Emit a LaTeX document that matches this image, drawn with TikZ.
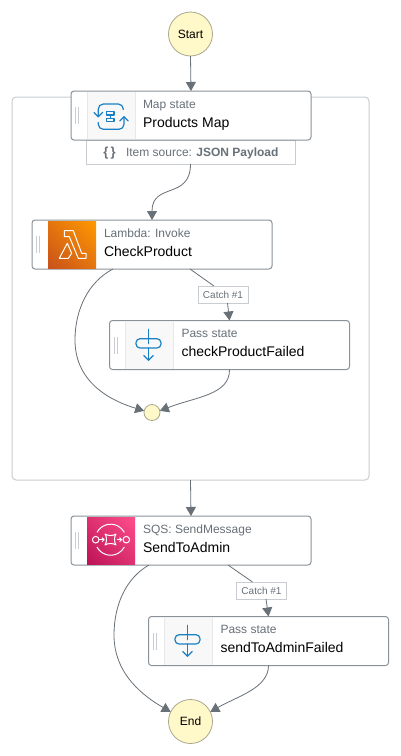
\documentclass[tikz,border=0pt]{standalone}
\usepackage{fontspec}
\setmainfont{Liberation Sans}
\usetikzlibrary{arrows.meta,calc,shadings}
\definecolor{edgeg}{HTML}{687078}
\definecolor{boxline}{HTML}{8A9299}
\definecolor{soft}{HTML}{C9CDD1}
\definecolor{panel}{HTML}{F8F8F8}
\definecolor{panelline}{HTML}{E6E8E9}
\definecolor{iconblue}{HTML}{1A7FC4}
\definecolor{cream}{HTML}{FFF8C8}
\definecolor{creamline}{HTML}{A9A78E}
\definecolor{lamlo}{HTML}{C8511B}
\definecolor{lamhi}{HTML}{FF9900}
\definecolor{sqslo}{HTML}{BC1356}
\definecolor{sqshi}{HTML}{FF4F8B}
\tikzset{
 every node/.style={outer sep=0pt},
 conn/.style={draw=edgeg,line width=0.8pt,-{Triangle[length=9pt,width=10pt]}},
 plain/.style={draw=edgeg,line width=0.8pt},
 statebox/.style={draw=boxline,line width=1pt,fill=white,rounded corners=3pt,minimum width=240pt,minimum height=49pt,inner sep=0pt,anchor=north west},
 round state/.style={circle,draw=creamline,line width=0.8pt,fill=cream,inner sep=0pt,font=\fontsize{12}{14}\selectfont},
 subtitle/.style={anchor=base west,inner sep=0pt,text=edgeg,font=\fontsize{12}{14}\selectfont},
 title/.style={anchor=base west,inner sep=0pt,text=black,font=\fontsize{14}{16}\selectfont},
 catch/.style={draw=soft,line width=1pt,fill=white,inner sep=0pt,minimum width=50pt,minimum height=17pt,text=edgeg,font=\fontsize{10}{12}\selectfont},
 iconline/.style={draw=iconblue,line width=1.2pt,line cap=round,line join=round},
 whiteline/.style={draw=white,line width=1pt,line join=round},
}
% #1 name, #2 x, #3 y, #4 subtitle, #5 title
\newcommand{\statecard}[5]{%
 \node[statebox] (#1) at (#2,#3) {};
 \node[subtitle] (#1sub) at (#2+72,#3+17) {#4};
 \node[title] (#1tit) at (#2+72,#3+36) {#5};
 \draw[soft,line width=0.8pt] (#2+4.5,#3+16) -- (#2+4.5,#3+33) (#2+7.5,#3+16) -- (#2+7.5,#3+33);
}
\newcommand{\panelbox}[2]{%
 \fill[panel] (#1+16,#2+1) rectangle (#1+64,#2+48);
 \draw[panelline,line width=1pt] (#1+16,#2+1) -- (#1+16,#2+48) (#1+64,#2+1) -- (#1+64,#2+48);
}
\newcommand{\passicon}[2]{%
 \panelbox{#1}{#2}
 \begin{scope}[shift={(#1,#2)}]
  \draw[iconline,rounded corners=4pt] (26.5,18.2) rectangle (51.5,27.5);
  \draw[iconline] (39,8.8) -- (39,23.2);
  \draw[iconline] (39,27.5) -- (39,39.8);
  \draw[iconline] (34.3,35.1) -- (39,39.8) -- (43.7,35.1);
 \end{scope}
}
\begin{document}
\begin{tikzpicture}[x=1pt,y=-1pt]
\useasboundingbox (0,0) rectangle (401,756);
\fill[white] (0,0) rectangle (401,756);
\node[draw=soft,line width=1pt,rounded corners=4pt,minimum width=357pt,minimum height=383pt,inner sep=0pt,anchor=north west] (container) at (12,97) {};

\node[round state,minimum size=44pt] (start) at (190.5,34) {Start};

% item source tab
\node[draw=soft,line width=1pt,fill=white,minimum width=209pt,minimum height=24pt,inner sep=0pt,anchor=north west] (item) at (86,140) {};
\node[anchor=base west,inner sep=0pt,text=edgeg,font=\fontsize{12}{14}\selectfont] (itemtext) at (126,156) {Item source: \textbf{JSON Payload}};
\node[anchor=base,inner sep=0pt,text=edgeg,font=\bfseries\fontsize{13}{14}\selectfont] (itembrace) at (109.5,156.5) {\{\,\}};

% Map
\statecard{map}{71}{91}{Map state}{Products Map}
\panelbox{71}{91}
\begin{scope}[shift={(60,80)}]
 \draw[iconline,rounded corners=5pt] (63.3,29.5) -- (63.3,24) -- (38.3,24) -- (38.3,36.7);
 \draw[iconline] (34,32.4) -- (38.3,36.7) -- (42.6,32.4);
 \draw[iconline,rounded corners=5pt] (38.3,42.5) -- (38.3,49.3) -- (64,49.3) -- (64,36.7);
 \draw[iconline] (59.7,41) -- (64,36.7) -- (68.3,41);
 \draw[iconline] (46.7,31.7) rectangle (54,35);
 \draw[iconline] (46.7,38.3) rectangle (54,41.7);
 \draw[iconline] (50.3,35) -- (50.3,38.3);
\end{scope}

% Lambda
\statecard{lambda}{32}{220}{Lambda: Invoke}{CheckProduct}
\shade[upper right=lamhi,lower left=lamlo,upper left=lamhi!50!lamlo,lower right=lamhi!50!lamlo] (48,221) rectangle (96,268);
\begin{scope}[shift={(20,210)}]
 \draw[whiteline] (44.3,20.7) -- (53.3,20.7) -- (61.7,43.3) -- (66,43.3) -- (66,48.3) -- (58.3,48.3) -- (49.3,26.7) -- (44.3,26.7) -- cycle;
 \draw[whiteline] (39.3,48.3) -- (47.3,33.3) -- (51.7,43.3) -- (48.3,48.3) -- cycle;
\end{scope}

% Pass 1
\statecard{passone}{109.5}{320.5}{Pass state}{checkProductFailed}
\passicon{109.5}{320.5}

\node[round state,minimum size=16pt] (join) at (152,412.5) {};

% SQS
\statecard{sqs}{71}{516}{SQS: SendMessage}{SendToAdmin}
\shade[upper right=sqshi,lower left=sqslo,upper left=sqshi!50!sqslo,lower right=sqshi!50!sqslo] (87,517) rectangle (135,564);
\begin{scope}[shift={(60,505)}]
 \draw[white,line width=1pt] (37,27.4) arc[start angle=208,end angle=332,radius=15.5];
 \draw[white,line width=1pt] (37,42) arc[start angle=152,end angle=28,radius=15.5];
 \draw[white,line width=1pt] (35.7,34.7) circle[radius=3.3];
 \draw[white,line width=1pt] (66.3,34.7) circle[radius=3.3];
 \draw[white,line width=1pt] (39,34.7) -- (44,34.7);
 \draw[white,line width=1pt] (42,32.7) -- (44,34.7) -- (42,36.7);
 \draw[white,line width=1pt] (56.5,34.7) -- (61.5,34.7);
 \draw[white,line width=1pt] (59.5,32.7) -- (61.5,34.7) -- (59.5,36.7);
 \draw[white,line width=1pt,line join=round] (45,29) .. controls (48,31) and (53,31) .. (56,29) .. controls (54,32) and (54,37) .. (56,40) .. controls (53,38) and (48,38) .. (45,40) .. controls (47,37) and (47,32) .. (45,29) -- cycle;
\end{scope}

% Pass 2
\statecard{passtwo}{148.5}{616.5}{Pass state}{sendToAdminFailed}
\passicon{148.5}{616.5}

\node[round state,minimum size=44pt] (end) at (190.5,721.5) {End};

\node[catch] (catchone) at (223,294.5) {Catch \#1};
\node[catch] (catchtwo) at (261.5,590.5) {Catch \#1};

% connectors
\draw[conn] (start.south) -- (map.north);
\draw[conn] (item.south) .. controls (190.5,200) and (152,182) .. (lambda.north);
\draw[conn] ($(lambda.south west)+(81,0)$) .. controls (88,282) and (75,310) .. (75,340) .. controls (75,385) and (115,402) .. (join.168);
\draw[plain] ($(lambda.south west)+(158,0)$) -- ($(catchone.north)+(-9,0)$);
\draw[conn] ($(catchone.south)+(4.5,0)$) -- (passone.north);
\draw[conn] (passone.south) .. controls (230,395) and (195,397) .. (join.12);
\draw[conn] (container.south) -- (sqs.north);
\draw[conn] ($(sqs.south west)+(78,0)$) .. controls (126,578) and (114,605) .. (114,635) .. controls (114,675) and (145,697) .. (end.154);
\draw[plain] ($(sqs.south west)+(157,0)$) -- ($(catchtwo.north)+(-9,0)$);
\draw[conn] ($(catchtwo.south)+(4.5,0)$) -- (passtwo.north);
\draw[conn] (passtwo.south) .. controls (268.5,688) and (238,696) .. (end.26);
\end{tikzpicture}
\end{document}
